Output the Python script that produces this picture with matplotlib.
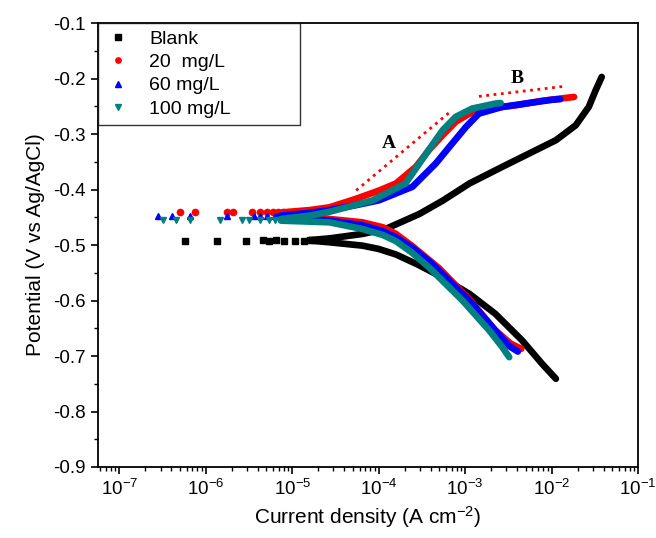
import numpy as np
import matplotlib
matplotlib.use('Agg')
import matplotlib.pyplot as plt
from matplotlib.ticker import MultipleLocator, LogLocator, FormatStrFormatter, FixedLocator

plt.rcParams['font.family'] = ['Liberation Sans', 'DejaVu Sans']
plt.rcParams['mathtext.default'] = 'regular'
plt.rcParams['axes.unicode_minus'] = False

# log10(current density) / potential
# sparse points near Ecorr
blank_sp_x = [-6.24, -5.87, -5.53, -5.34, -5.27, -5.19, -5.09, -4.97, -4.86, -4.80]
blank_sp_y = [-0.492, -0.492, -0.492, -0.491, -0.493, -0.491, -0.493, -0.492, -0.492, -0.491]
r20_sp_x = [-6.30, -6.13, -5.76, -5.68, -5.47, -5.37, -5.29, -5.22, -5.16, -5.11]
r20_sp_y = [-0.441, -0.440, -0.441, -0.440, -0.441, -0.441, -0.440, -0.441, -0.440, -0.441]
b60_sp_x = [-6.55, -6.39, -6.18, -5.76, -5.44, -5.37, -5.29, -5.20, -5.14]
b60_sp_y = [-0.447, -0.447, -0.447, -0.447, -0.447, -0.448, -0.447, -0.447, -0.447]
t100_sp_x = [-6.50, -6.35, -6.18, -5.84, -5.58, -5.50, -5.37, -5.27, -5.20, -5.13]
t100_sp_y = [-0.455, -0.455, -0.455, -0.455, -0.455, -0.454, -0.455, -0.455, -0.454, -0.455]

# anodic branches
blank_an_x = [-4.80, -4.57, -4.19, -3.92, -3.53, -3.26, -2.95, -2.57, -2.26, -1.95, -1.72, -1.57, -1.49, -1.42]
blank_an_y = [-0.491, -0.488, -0.480, -0.471, -0.444, -0.420, -0.389, -0.359, -0.335, -0.311, -0.284, -0.251, -0.221, -0.197]
r20_an_x = [-5.11, -4.80, -4.57, -4.26, -4.00, -3.80, -3.57, -3.42, -3.26, -3.11, -2.95, -2.72, -2.41, -2.11, -1.74]
r20_an_y = [-0.441, -0.437, -0.432, -0.4165, -0.402, -0.389, -0.359, -0.329, -0.302, -0.278, -0.263, -0.254, -0.248, -0.240, -0.233]
b60_an_x = [-5.14, -4.80, -4.57, -4.26, -4.00, -3.61, -3.34, -3.15, -2.99, -2.84, -2.57, -2.26, -1.99, -1.90]
b60_an_y = [-0.447, -0.442, -0.437, -0.428, -0.4195, -0.395, -0.353, -0.317, -0.287, -0.263, -0.251, -0.244, -0.238, -0.237]
t100_an_x = [-5.13, -4.80, -4.57, -4.30, -4.07, -3.69, -3.45, -3.26, -3.11, -2.92, -2.65, -2.59]
t100_an_y = [-0.453, -0.447, -0.440, -0.429, -0.4195, -0.389, -0.335, -0.293, -0.269, -0.254, -0.245, -0.244]

# cathodic branches
blank_ca_x = [-4.80, -4.57, -4.19, -4.00, -3.80, -3.55, -3.34, -2.95, -2.65, -2.34, -2.11, -1.95]
blank_ca_y = [-0.492, -0.495, -0.501, -0.507, -0.517, -0.535, -0.552, -0.588, -0.624, -0.672, -0.714, -0.741]
r20_ca_x = [-5.11, -4.57, -4.19, -3.95, -3.80, -3.61, -3.30, -2.95, -2.65, -2.47, -2.35]
r20_ca_y = [-0.442, -0.453, -0.459, -0.468, -0.480, -0.502, -0.542, -0.598, -0.654, -0.678, -0.687]
b60_ca_x = [-5.14, -4.57, -4.19, -3.95, -3.80, -3.60, -3.38, -2.95, -2.65, -2.49, -2.39]
b60_ca_y = [-0.448, -0.456, -0.464, -0.475, -0.486, -0.506, -0.534, -0.600, -0.654, -0.682, -0.692]
t100_ca_x = [-5.13, -4.57, -4.19, -3.95, -3.80, -3.62, -3.42, -3.03, -2.72, -2.57, -2.49]
t100_ca_y = [-0.456, -0.459, -0.471, -0.482, -0.493, -0.513, -0.540, -0.600, -0.654, -0.684, -0.702]

# dotted guide lines A and B
lineA_x = [-4.26, -3.19]
lineA_y = [-0.4015, -0.262]
lineB_x = [-2.84, -1.86]
lineB_y = [-0.232, -0.214]

x_decades = [-7, -6, -5, -4, -3, -2, -1]

series = [
    ('Blank', 'black', 's', blank_sp_x, blank_sp_y, blank_an_x, blank_an_y, blank_ca_x, blank_ca_y),
    ('20  mg/L', 'red', 'o', r20_sp_x, r20_sp_y, r20_an_x, r20_an_y, r20_ca_x, r20_ca_y),
    ('60 mg/L', 'blue', '^', b60_sp_x, b60_sp_y, b60_an_x, b60_an_y, b60_ca_x, b60_ca_y),
    ('100 mg/L', '#008080', 'v', t100_sp_x, t100_sp_y, t100_an_x, t100_an_y, t100_ca_x, t100_ca_y),
]

fig = plt.figure(figsize=(6.56, 5.38), dpi=100)
ax = fig.add_axes([0.149, 0.132, 0.8236, 0.825])

for name, c, m, sx, sy, ax_, ay, cx, cy in series:
    ax.plot(10 ** np.array(sx), sy, ls='none', marker=m, ms=4.5, color=c, label=name)
    ax.plot(10 ** np.array(ax_), ay, '-', color=c, lw=4.8, solid_capstyle='round', solid_joinstyle='round')
    ax.plot(10 ** np.array(cx), cy, '-', color=c, lw=4.8, solid_capstyle='round', solid_joinstyle='round')

ax.plot(10 ** np.array(lineA_x), lineA_y, ':', color='red', lw=2)
ax.plot(10 ** np.array(lineB_x), lineB_y, ':', color='red', lw=2)
ax.text(10 ** -3.88, -0.317, 'A', family='Liberation Serif', weight='bold', fontsize=14, ha='center', va='center')
ax.text(10 ** -2.40, -0.200, 'B', family='Liberation Serif', weight='bold', fontsize=14, ha='center', va='center')

ax.set_xscale('log')
ax.set_xlim(10 ** -7.25, 1e-1)
ax.set_ylim(-0.9, -0.1)
ax.yaxis.set_major_locator(MultipleLocator(0.1))
ax.yaxis.set_minor_locator(MultipleLocator(0.05))
ax.yaxis.set_major_formatter(FormatStrFormatter('%.1f'))
ax.xaxis.set_major_locator(FixedLocator([10.0 ** d for d in x_decades]))
ax.xaxis.set_minor_locator(LogLocator(base=10, subs=np.arange(2, 10), numticks=20))
ax.tick_params(which='major', direction='out', length=5, width=1.2, labelsize=13.5)
ax.tick_params(which='minor', direction='out', length=3, width=1)
for s in ax.spines.values():
    s.set_linewidth(1.3)

ax.set_xlabel('Current density (A cm$^{-2}$)', fontsize=15)
ax.set_ylabel('Potential (V vs Ag/AgCl)', fontsize=15, labelpad=6)

leg = ax.legend(loc='upper left', bbox_to_anchor=(0, 1, 0.374, 0), mode='expand',
                fontsize=14, frameon=True, fancybox=False,
                edgecolor='black', borderaxespad=0, borderpad=0.35, handletextpad=0.9,
                labelspacing=0.3, markerscale=0.85, handlelength=1.4)
leg.get_frame().set_linewidth(1.0)

fig.savefig('out.png', dpi=100)
